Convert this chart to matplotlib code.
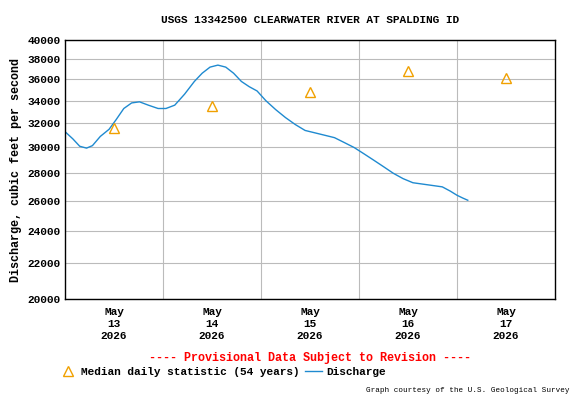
import matplotlib
matplotlib.use("Agg")
import matplotlib.pyplot as plt
import numpy as np
from matplotlib.ticker import FixedLocator, NullLocator

plt.rcParams['font.family'] = ['Liberation Mono', 'DejaVu Sans Mono']

# time in days since May 13 00:00
disc_t = [-0.0, 0.08, 0.15, 0.22, 0.28, 0.36, 0.45, 0.52, 0.60, 0.68, 0.76, 0.85, 0.95,
          1.03, 1.12, 1.22, 1.32, 1.40, 1.48, 1.56, 1.64, 1.72, 1.80, 1.88, 1.96, 2.05,
          2.15, 2.25, 2.35, 2.45, 2.55, 2.65, 2.75, 2.85, 2.95, 3.05, 3.15, 3.25, 3.35,
          3.45, 3.55, 3.65, 3.75, 3.85, 3.93, 4.00, 4.06, 4.11]
disc_v = [31300, 30700, 30100, 29950, 30150, 30900, 31500, 32300, 33300, 33800, 33900, 33600, 33300,
          33300, 33600, 34600, 35800, 36600, 37200, 37400, 37200, 36600, 35800, 35300, 34900, 34000,
          33200, 32500, 31900, 31400, 31200, 31000, 30800, 30400, 30000, 29500, 29000, 28500, 28000,
          27600, 27300, 27200, 27100, 27000, 26700, 26400, 26200, 26050]

median_t = [0.5, 1.5, 2.5, 3.5, 4.5]
median_v = [31600, 33500, 34800, 36800, 36100]

yticks = [20000, 22000, 24000, 26000, 28000, 30000, 32000, 34000, 36000, 38000, 40000]
xlabels = ["May\n13\n2026", "May\n14\n2026", "May\n15\n2026", "May\n16\n2026", "May\n17\n2026"]

fig = plt.figure(figsize=(5.76, 4.0), dpi=100)
ax = fig.add_axes([65/576, 1-299/400, 490/576, 259/400])
ax.set_yscale('log')
ax.set_ylim(20000, 40000)
ax.set_xlim(0, 5)
ax.yaxis.set_major_locator(FixedLocator(yticks))
ax.yaxis.set_minor_locator(NullLocator())
ax.set_yticklabels([str(v) for v in yticks], fontsize=8, fontweight='bold')
ax.set_xticks([0.5, 1.5, 2.5, 3.5, 4.5])
ax.set_xticklabels(xlabels, fontsize=8, fontweight='bold')
ax.tick_params(axis='x', length=0, pad=6)
ax.tick_params(axis='y', length=0, pad=3)
for v in yticks:
    ax.axhline(v, color='#bbbbbb', lw=0.8, zorder=0)
for d in [1, 2, 3, 4]:
    ax.axvline(d, color='#bbbbbb', lw=0.8, zorder=0)
for s in ax.spines.values():
    s.set_linewidth(1)

ax.plot(disc_t, disc_v, color='#1f8ad0', lw=1, label='Discharge')
ax.plot(median_t, median_v, linestyle='none', marker='^', markersize=7,
        markerfacecolor='none', markeredgecolor='#f0a000', label='Median daily statistic (54 years)')

ax.set_ylabel('Discharge, cubic feet per second', fontsize=8.5, fontweight='bold')
fig.text(310/576, 1-20/400, 'USGS 13342500 CLEARWATER RIVER AT SPALDING ID', ha='center', va='center',
         fontsize=8, fontweight='bold')
fig.text(310/576, 1-358/400, '---- Provisional Data Subject to Revision ----', ha='center', va='center',
         fontsize=8.5, fontweight='bold', color='red')
h, l = ax.get_legend_handles_labels()
fig.legend(h[::-1], l[::-1], loc='center left', bbox_to_anchor=(50/576, 1-372/400), ncol=2, frameon=False,
           prop={'size': 8, 'weight': 'bold'}, handlelength=1.5, columnspacing=0.5, handletextpad=0.4)
fig.text(570/576, 1-390/400, 'Graph courtesy of the U.S. Geological Survey', ha='right', va='center', fontsize=5.5)
fig.savefig('out.png', dpi=100)
